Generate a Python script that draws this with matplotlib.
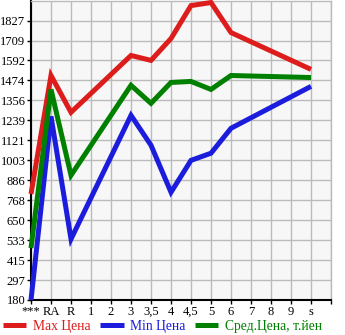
import numpy as np
import matplotlib
matplotlib.use("Agg")
import matplotlib.pyplot as plt

categories = ["***", "RA", "R", "1", "2", "3", "3,5", "4", "4,5", "5", "6", "7", "8", "9", "s"]
nan = np.nan
max_price = [805, 1503, 1286, nan, nan, 1621, 1592, 1721, 1915, 1933, 1756, nan, nan, nan, 1539]
min_price = [180, 1262, 539, nan, nan, 1268, 1092, 815, 1003, 1045, 1192, nan, nan, nan, 1439]
avg_price = [486, 1421, 915, nan, nan, 1445, 1339, 1462, 1468, 1421, 1503, nan, nan, nan, 1491]
yticks = [180, 297, 415, 533, 650, 768, 886, 1003, 1121, 1239, 1356, 1474, 1592, 1709, 1827]
series_labels = ["Max Цена", "Min Цена", "Сред.Цена, т.йен"]
colors = ["#dd1c1c", "#1c1cdd", "#008000"]

plt.rcParams['font.family'] = ['Liberation Serif', 'DejaVu Serif']

fig = plt.figure(figsize=(3.45, 3.35), dpi=100)
ax = fig.add_axes([31/345, 1 - 300/335, 300/345, 299.5/335])
ax.set_facecolor("#f7f7f7")

x = np.arange(len(categories))
handles = []
for vals, c, lab in zip([max_price, min_price, avg_price], colors, series_labels):
    v = np.array(vals, dtype=float)
    m = ~np.isnan(v)
    ln, = ax.plot(x[m], v[m], color=c, lw=3.6, label=lab, clip_on=False,
                  solid_joinstyle='miter', solid_capstyle='butt', zorder=3)
    handles.append(ln)

ax.set_xlim(0, 15)
ax.set_ylim(180, 1945)
ax.set_xticks(np.arange(0, 16))
ax.set_xticklabels(categories + [""])
ax.set_yticks(yticks)
ax.set_yticklabels([str(t) for t in yticks])
ax.grid(True, color="#bbbbbb", lw=1)
ax.set_axisbelow(True)
for s in ["top", "right"]:
    ax.spines[s].set_color("#bbbbbb")
    ax.spines[s].set_linewidth(1)
for s in ["left", "bottom"]:
    ax.spines[s].set_color("black")
    ax.spines[s].set_linewidth(1.5)
ax.tick_params(axis='both', direction='out', length=3, width=1, labelsize=9, pad=1, colors='black')

leg = fig.legend(handles=handles, loc='lower left', bbox_to_anchor=(-0.01, -0.015), ncol=3,
                 frameon=False, fontsize=9.8, handlelength=1.7, handletextpad=0.45,
                 columnspacing=0.75, borderaxespad=0.1)
for t, c in zip(leg.get_texts(), colors):
    t.set_color(c)

fig.savefig("out.png", dpi=100)
